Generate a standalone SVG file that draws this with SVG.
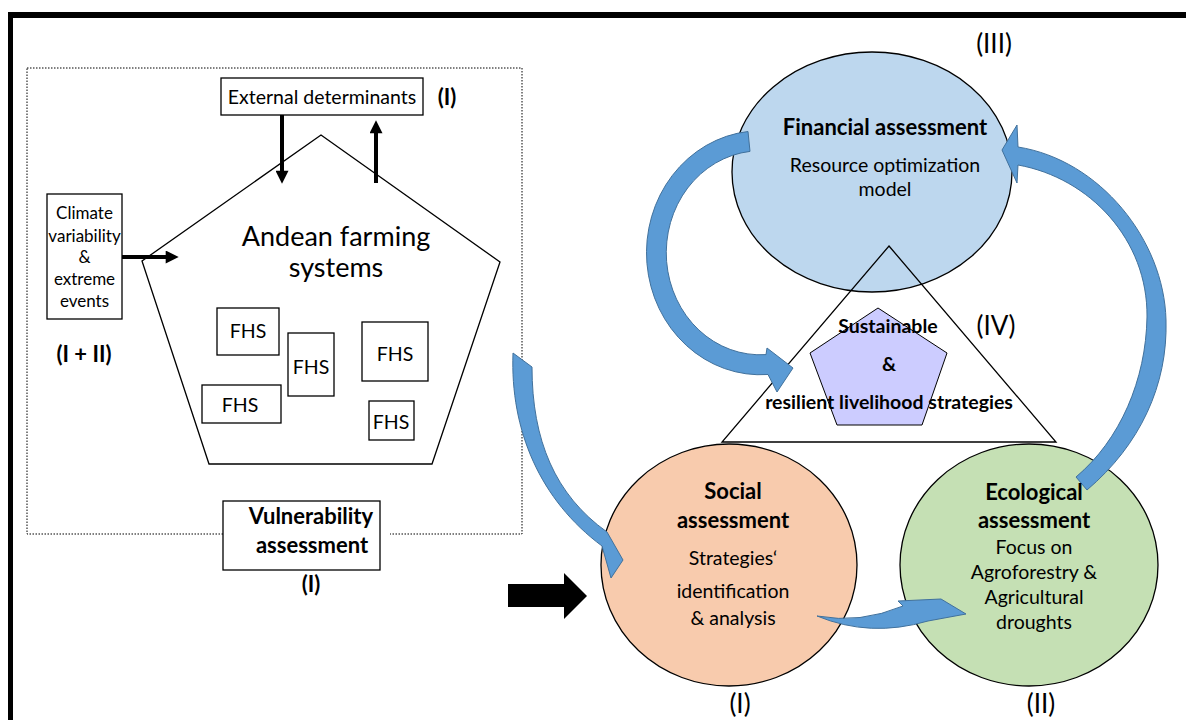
<svg xmlns="http://www.w3.org/2000/svg" width="1186" height="720" viewBox="0 0 1186 720">
<defs>
<marker id="ah" viewBox="0 0 10 10" refX="1" refY="5" markerWidth="16" markerHeight="13" markerUnits="userSpaceOnUse" orient="auto">
<path d="M0,0 L10,5 L0,10 Z" fill="#000"/>
</marker>
</defs>
<style>
text{font-family:Lato,"Open Sans","Liberation Sans",sans-serif;fill:#000;text-anchor:middle}
.b{font-weight:bold}
.box{fill:#fff;stroke:#000;stroke-width:1.3}
.thin{fill:none;stroke:#000;stroke-width:1.3}
.blk{stroke:#000;stroke-width:4;fill:none;marker-end:url(#ah)}
.blue{fill:#5B9BD5;stroke:#41719C;stroke-width:1}
.s17{font-size:17px}
.s19{font-size:19.5px}
.s22{font-size:22px}
.s26{font-size:26px}
.body{font-size:19.5px}
.head{font-size:22px;font-weight:bold}
</style>
<rect width="1186" height="720" fill="#fff"/>
<g id="frame">
<rect x="8" y="12" width="1178" height="6" fill="#000"/>
<rect x="8" y="12" width="5" height="708" fill="#000"/>
</g>
<g id="vulnerability-area">
<rect x="27" y="68" width="495" height="466" fill="none" stroke="#000" stroke-width="1" stroke-dasharray="1.5,1.5"/>
<rect x="380" y="530" width="10" height="8" fill="#fff"/>
</g>
<g id="andean-farming-systems">
<polygon class="thin" points="321,135 500,262 432,464 209,464 142,261"/>
<text x="336" y="246" font-size="27">Andean farming</text>
<text x="336" y="277" font-size="27">systems</text>
</g>
<g id="external-determinants">
<rect class="box" x="221" y="78" width="202" height="37"/>
<text x="322" y="104" font-size="19.5">External determinants</text>
<text class="b" x="447" y="105" font-size="22">(I)</text>
</g>
<g id="climate">
<rect class="box" x="47" y="194" width="75" height="125"/>
<text x="84.5" y="219" font-size="17">Climate</text>
<text x="84.5" y="242" font-size="17">variability</text>
<text x="84.5" y="263" font-size="17">&amp;</text>
<text x="84.5" y="285" font-size="17">extreme</text>
<text x="84.5" y="307" font-size="17">events</text>
<text class="b" x="84" y="362" font-size="22">(I + II)</text>
</g>
<g id="fhs1"><rect class="box" x="217" y="308" width="62" height="47"/><text class="s19" x="248" y="338">FHS</text></g>
<g id="fhs2"><rect class="box" x="288" y="333" width="46" height="63"/><text class="s19" x="311" y="374">FHS</text></g>
<g id="fhs3"><rect class="box" x="362" y="322" width="66" height="59"/><text class="s19" x="395" y="361">FHS</text></g>
<g id="fhs4"><rect class="box" x="202" y="385" width="79" height="38"/><text class="s19" x="240" y="412">FHS</text></g>
<g id="fhs5"><rect class="box" x="369" y="401" width="45" height="39"/><text class="s19" x="391" y="429">FHS</text></g>
<g id="vulnerability-assessment">
<rect class="box" x="223" y="501" width="157" height="69"/>
<text class="head" x="311" y="524">Vulnerability</text>
<text class="head" x="312" y="553">assessment</text>
<text class="b" x="311" y="592" font-size="22">(I)</text>
</g>
<g id="financial-assessment">
<ellipse cx="872" cy="172" rx="140" ry="120" fill="#BDD7EE" stroke="#000" stroke-width="1.3"/>
<text class="head" x="885" y="135">Financial assessment</text>
<text class="body" x="885" y="172">Resource optimization</text>
<text class="body" x="885" y="196">model</text>
<text class="s26" x="994" y="53">(III)</text>
</g>
<g id="social-assessment">
<ellipse cx="729" cy="565" rx="128" ry="121" fill="#F8CBAD" stroke="#000" stroke-width="1.3"/>
<text class="head" x="733" y="499">Social</text>
<text class="head" x="733" y="528">assessment</text>
<text class="body" x="733" y="565">Strategies‘</text>
<text class="body" x="733" y="598">identification</text>
<text class="body" x="733" y="625">&amp; analysis</text>
<text class="s26" x="740" y="713">(I)</text>
</g>
<g id="ecological-assessment">
<ellipse cx="1029" cy="565" rx="129" ry="121" fill="#C5E0B4" stroke="#000" stroke-width="1.3"/>
<text class="s26" x="1041" y="713">(II)</text>
</g>
<g id="sustainable-strategies">
<polygon class="thin" points="889,246 1056,442 722,442"/>
<polygon points="878,308 947,353 922,425 837,425 810,353" fill="#CCCCFF" stroke="#000" stroke-width="1"/>
<text class="b" font-size="19.5" x="888" y="333">Sustainable</text>
<text class="b" font-size="19.5" x="889" y="371">&amp;</text>
<text class="b" font-size="19.5" x="889" y="409">resilient livelihood strategies</text>
<text class="s26" x="996" y="335">(IV)</text>
</g>
<g id="connectors">
<line class="blk" x1="282" y1="115" x2="282" y2="172"/>
<line class="blk" x1="376" y1="183" x2="376" y2="132"/>
<line class="blk" x1="122" y1="257" x2="167" y2="257"/>
<polygon points="508,584 564,584 564,573 587,596 564,619 564,607 508,607" fill="#000"/>
<path class="blue" d="M513,353 C510,430 540,500 602,546 L611,578 L623,560 L607,532 C555,495 532,440 532,367 Z"/>
<path class="blue" d="M748,131.5 A114,122 0 0 0 768,374.5 L777,392 L793,368 L767,348 L766,354.6 A94,102 0 0 1 750,151.4 Z"/>
<path class="blue" d="M1087,490 C1140,445 1168,385 1166,320 C1164,240 1100,160 1018,147 L1017,125 L1002,150 L1017,183 L1018,165 C1090,178 1148,240 1147,317 C1146,380 1120,440 1076,477 Z"/>
<path class="blue" d="M817,616 Q860,624 903,606 L898,601 L941,599 L966,614 L928,621 Q870,638 817,616 Z"/>
</g>
<g id="ecological-labels">
<text class="head" x="1034" y="500">Ecological</text>
<text class="head" x="1034" y="528">assessment</text>
<text class="body" x="1034" y="554">Focus on</text>
<text class="body" x="1034" y="579">Agroforestry &amp;</text>
<text class="body" x="1034" y="604">Agricultural</text>
<text class="body" x="1034" y="629">droughts</text>
</g>
</svg>
